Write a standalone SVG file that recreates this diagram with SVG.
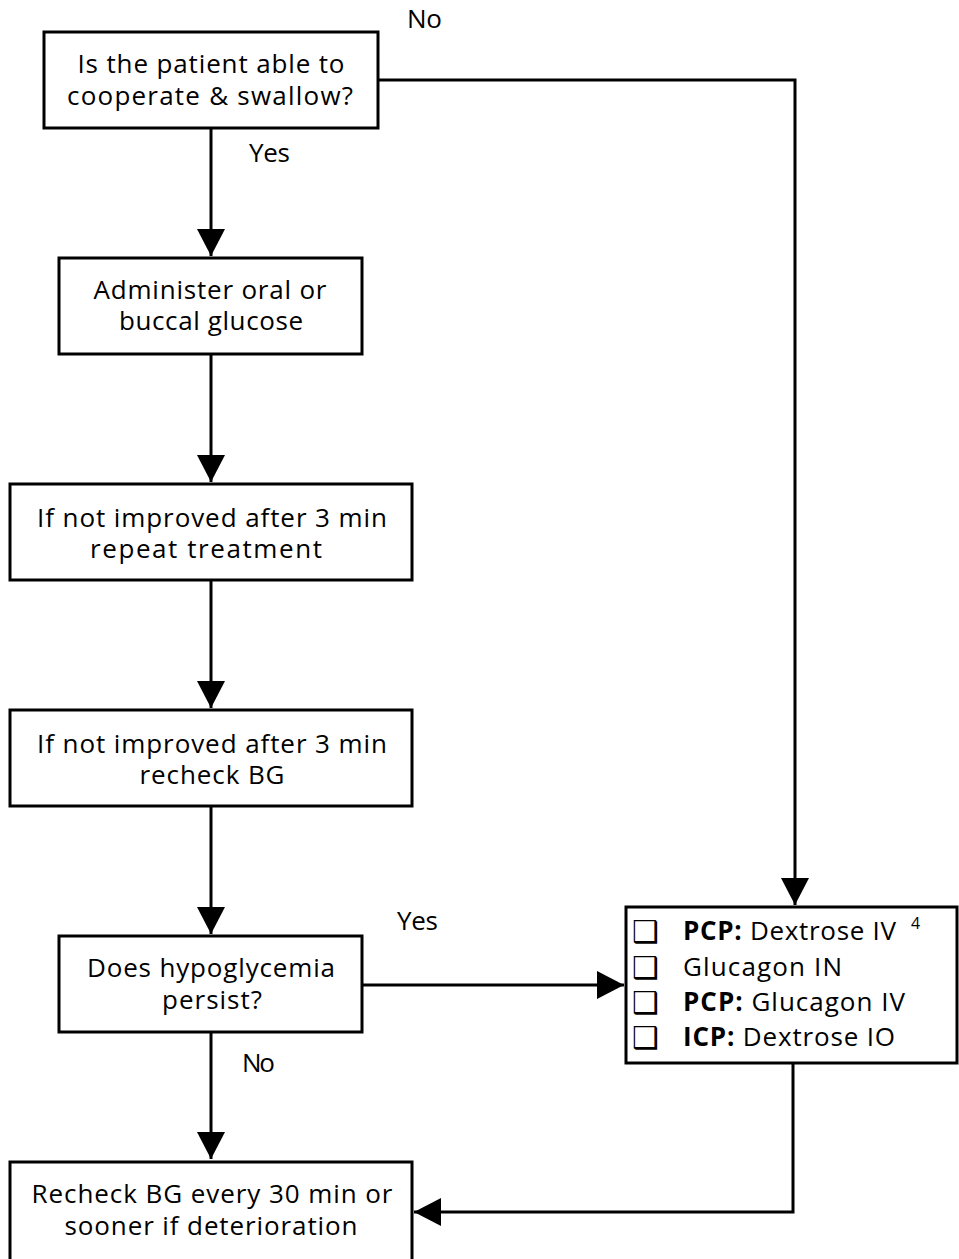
<svg xmlns="http://www.w3.org/2000/svg" width="959" height="1259" viewBox="0 0 959 1259">
<style>
.box{fill:#fff;stroke:#000;stroke-width:3}
.t{font-family:"Open Sans",sans-serif;font-size:26px;fill:#000;text-anchor:middle}
.l{font-family:"Open Sans",sans-serif;font-size:26px;fill:#000}
.b{font-weight:bold}
.cb{font-family:"DejaVu Sans",sans-serif;font-size:30px;fill:#000}
.c{fill:none;stroke:#000;stroke-width:3}
</style>
<defs>
<marker id="ah" markerUnits="userSpaceOnUse" markerWidth="28" markerHeight="28" viewBox="0 0 28 28" refX="27" refY="14" orient="auto">
<path d="M0,0 L27,14 L0,28 Z" fill="#000"/>
</marker>
</defs>
<g id="connectors">
<path class="c" d="M211,128 V256" marker-end="url(#ah)"/>
<path class="c" d="M378,80 H795 V905" marker-end="url(#ah)"/>
<path class="c" d="M211,354 V482" marker-end="url(#ah)"/>
<path class="c" d="M211,580 V708" marker-end="url(#ah)"/>
<path class="c" d="M211,806 V934" marker-end="url(#ah)"/>
<path class="c" d="M362,985 H624" marker-end="url(#ah)"/>
<path class="c" d="M211,1032 V1159" marker-end="url(#ah)"/>
<path class="c" d="M793,1063 V1212 H414" marker-end="url(#ah)"/>
<text class="l" x="407" y="28" textLength="35">No</text>
<text class="l" x="249" y="162" textLength="41">Yes</text>
<text class="l" x="397" y="930" textLength="41">Yes</text>
<text class="l" x="242" y="1072" textLength="33">No</text>
</g>
<g id="n1">
<rect class="box" x="44" y="32" width="334" height="96"/>
<text class="t" x="211" y="73" textLength="267">Is the patient able to</text>
<text class="t" x="210" y="105" textLength="286">cooperate &amp; swallow?</text>
</g>
<g id="n2">
<rect class="box" x="59" y="258" width="303" height="96"/>
<text class="t" x="210" y="299" textLength="233">Administer oral or</text>
<text class="t" x="211" y="330" textLength="184">buccal glucose</text>
</g>
<g id="n3">
<rect class="box" x="10" y="484" width="402" height="96"/>
<text class="t" x="212" y="527" textLength="350">If not improved after 3 min</text>
<text class="t" x="206" y="558" textLength="232">repeat treatment</text>
</g>
<g id="n4">
<rect class="box" x="10" y="710" width="402" height="96"/>
<text class="t" x="212" y="753" textLength="350">If not improved after 3 min</text>
<text class="t" x="212" y="784" textLength="145">recheck BG</text>
</g>
<g id="n5">
<rect class="box" x="59" y="936" width="303" height="96"/>
<text class="t" x="211" y="977" textLength="248">Does hypoglycemia</text>
<text class="t" x="212" y="1009" textLength="100">persist?</text>
</g>
<g id="n6">
<rect class="box" x="626" y="907" width="331" height="156"/>
<text class="cb" x="632" y="942">❑</text>
<text class="cb" x="632" y="978">❑</text>
<text class="cb" x="632" y="1013">❑</text>
<text class="cb" x="632" y="1048">❑</text>
<text class="l" x="683" y="940" textLength="213"><tspan class="b">PCP:</tspan> Dextrose IV</text>
<text class="l" x="911" y="929" style="font-size:16px">4</text>
<text class="l" x="683" y="976" textLength="159">Glucagon IN</text>
<text class="l" x="683" y="1011" textLength="222"><tspan class="b">PCP:</tspan> Glucagon IV</text>
<text class="l" x="683" y="1046" textLength="212"><tspan class="b">ICP:</tspan> Dextrose IO</text>
</g>
<g id="n7">
<rect class="box" x="10" y="1162" width="402" height="100"/>
<text class="t" x="212" y="1203" textLength="361">Recheck BG every 30 min or</text>
<text class="t" x="211" y="1235" textLength="293">sooner if deterioration</text>
</g>
</svg>
